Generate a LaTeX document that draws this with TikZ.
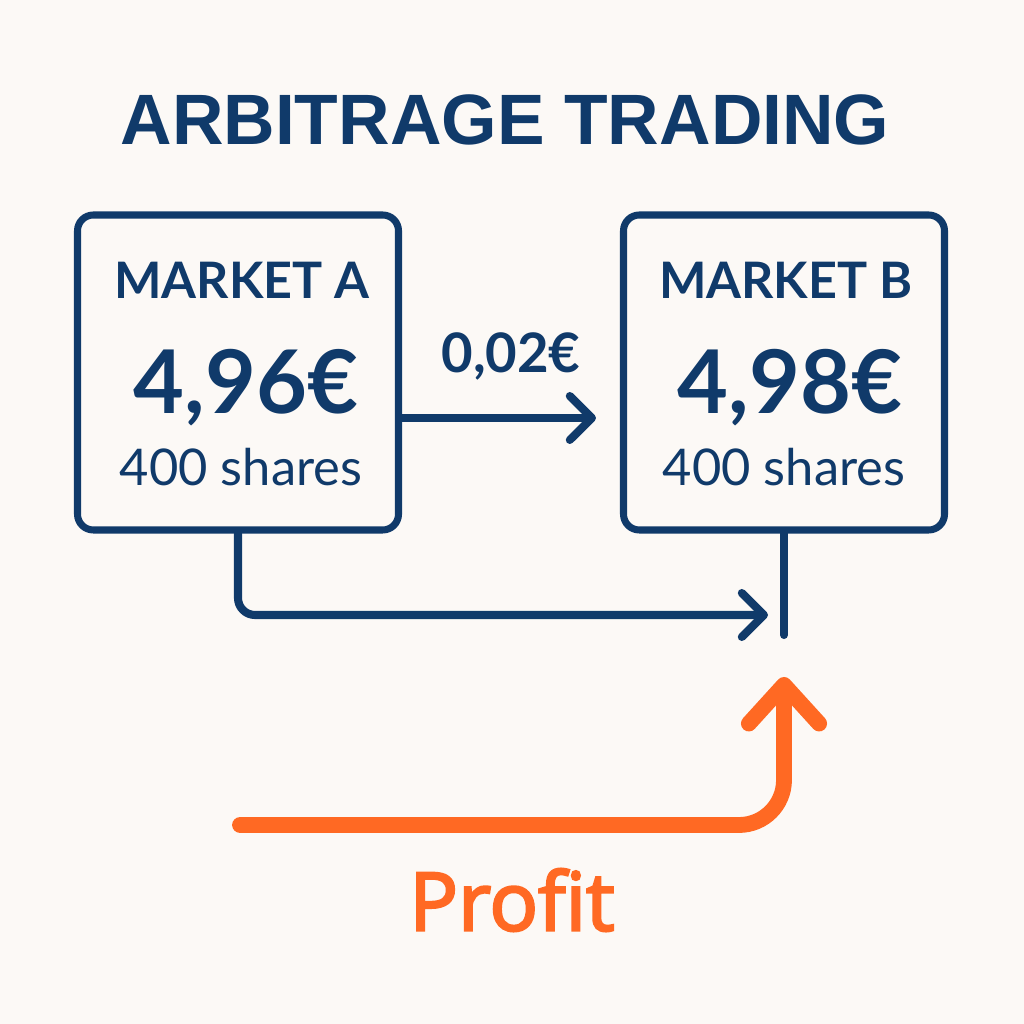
\documentclass[tikz,border=0pt]{standalone}
\usepackage{fontspec}
\setmainfont{Lato}
\newfontfamily\headfont{Liberation Sans}
\newfontfamily\gainfont[FakeBold=3]{Open Sans}
\usetikzlibrary{arrows.meta,positioning}
\definecolor{navy}{RGB}{16,58,106}
\definecolor{gainorange}{RGB}{255,105,35}
\definecolor{paper}{RGB}{252,249,246}
\tikzset{
  market/.style={draw=navy,line width=2pt,rounded corners=4.5pt,fill=paper,
    minimum width=32.1mm,minimum height=31.5mm},
  mname/.style={text=navy,font=\fontsize{14.3}{16}\selectfont\bfseries},
  mprice/.style={text=navy,font=\fontsize{25}{28}\selectfont\bfseries},
  mshares/.style={text=navy,font=\fontsize{14.4}{16}\selectfont},
  link/.style={draw=navy,line width=2.3pt,line cap=round,line join=round},
  linkarrow/.style={link,-{Straight Barb[length=6.3pt,width=12.5pt,round]}},
  gain/.style={draw=gainorange,line width=4.5pt,line cap=round,rounded corners=4.5mm,
    -{Straight Barb[length=11pt,width=20pt,round]}},
}
\begin{document}
\begin{tikzpicture}[x=0.1mm,y=0.1mm]
  \fill[paper] (0,0) rectangle (1024,1024);
  \useasboundingbox (0,0) rectangle (1024,1024);

  % title
  \node[text=navy,font=\headfont\fontsize{20.3}{23}\selectfont\bfseries] (title) at (505,904) {ARBITRAGE TRADING};

  % markets
  \node[market] (mA) at (238,651.5) {};
  \node[market] (mB) at (784,651.5) {};
  \node[mname] (nameA) at (242,744) {MARKET A};
  \node[mprice] (priceA) at (246,636) {4,96€};
  \node[mshares] (sharesA) at (241,557) {400 shares};
  \node[mname] (nameB) at (786,744) {MARKET B};
  \node[mprice] (priceB) at (790,636) {4,98€};
  \node[mshares] (sharesB) at (784,557) {400 shares};

  % spread
  \coordinate (spread) at (0,606);
  \draw[linkarrow,shorten >=2.4mm] (mA.east |- spread) -- node[above=2.2mm,text=navy,font=\fontsize{15.5}{18}\selectfont\bfseries] (diff) {0,02€} (mB.west |- spread);

  % flow below
  \coordinate (meet) at (768,409);
  \coordinate (sink) at (784,389);
  \draw[linkarrow,rounded corners=1.7mm] (mA.south) |- (meet);
  \draw[link] (mB.south) -- (sink);

  % profit
  \coordinate (pstart) at (240,199);
  \coordinate (ptip) at (784,347);
  \draw[gain] (pstart) -| (ptip);
  \node[text=gainorange,font=\gainfont\fontsize{23}{27}\selectfont] (profit) at (512,124) {Profit};
\end{tikzpicture}
\end{document}
